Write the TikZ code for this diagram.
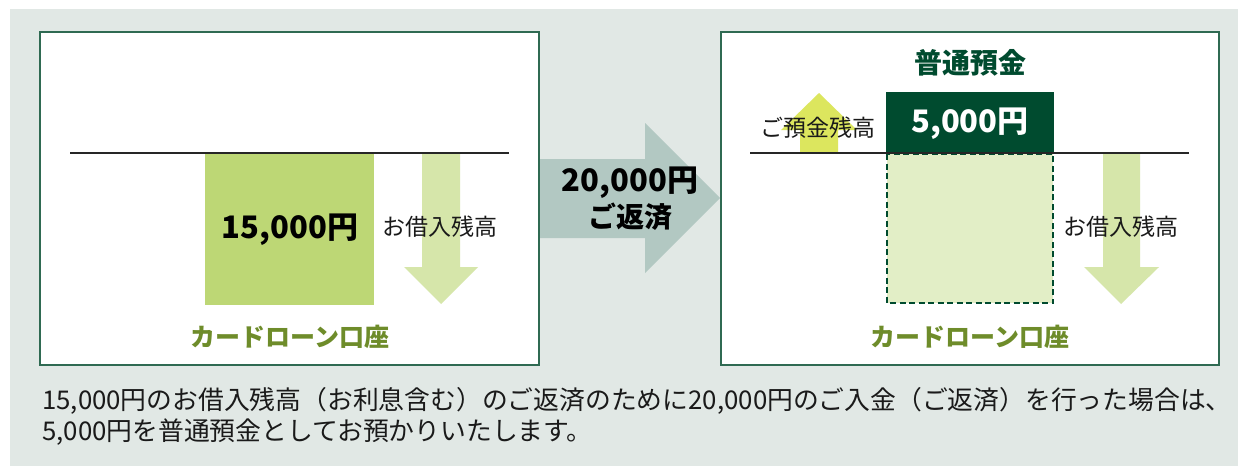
\documentclass[tikz,border=0pt]{standalone}
\usepackage{fontspec}
\setmainfont{Noto Sans CJK JP}
\definecolor{bgc}{HTML}{E1E8E5}
\definecolor{boxline}{HTML}{2F6A52}
\definecolor{midgreen}{HTML}{BDD775}
\definecolor{lightgreen}{HTML}{D6E6AA}
\definecolor{arrowgray}{HTML}{B2C8C2}
\definecolor{darkgreen}{HTML}{004B2F}
\definecolor{palegreen}{HTML}{E2EEC6}
\definecolor{yellowgreen}{HTML}{DCE65E}
\definecolor{olive}{HTML}{6E8C2A}
\definecolor{textc}{HTML}{1A1A1A}
\tikzset{
  panel/.style={draw=boxline, line width=1.3pt, fill=white},
  baseline line/.style={draw=black!85, line width=1.8pt},
  lbl/.style={inner sep=0pt, text=textc, font=\fontsize{23}{26}\selectfont},
  amount/.style={inner sep=0pt, text=black, font=\bfseries\fontsize{31}{34}\selectfont},
  acct/.style={inner sep=0pt, text=olive, font=\bfseries\fontsize{25}{28}\selectfont},
  note/.style={inner sep=0pt, anchor=base west, text=textc, font=\fontsize{25.8}{28}\selectfont},
}
\begin{document}
\begin{tikzpicture}[x=1pt,y=-1pt]
\useasboundingbox (0,0) rectangle (1238,466);
% background
\fill[bgc] (10,9) rectangle (1238,466);
% panels
\draw[panel] (40,32) rectangle (539,365);
\draw[panel] (721,32) rectangle (1219,365);
% middle arrow
\fill[arrowgray] (540,159) -- (645,159) -- (645,123) -- (720,198) -- (645,273) -- (645,238) -- (540,238) -- cycle;
% left panel
\fill[midgreen] (205,153) rectangle (374,305);
\fill[lightgreen] (422,153) -- (460,153) -- (460,267) -- (478,267) -- (441,304) -- (404,267) -- (422,267) -- cycle;
\draw[baseline line] (70,153) -- (509,153);
% right panel
\fill[darkgreen] (886,92) rectangle (1054,153);
\draw[fill=palegreen, draw=darkgreen, line width=2pt, dash pattern=on 6pt off 3.5pt] (887,154) rectangle (1053,303);
\fill[yellowgreen] (800,153) -- (838,153) -- (838,130) -- (857,130) -- (819,93) -- (781,130) -- (800,130) -- cycle;
\fill[lightgreen] (1103,153) -- (1140,153) -- (1140,267) -- (1159,267) -- (1121,304) -- (1084,267) -- (1103,267) -- cycle;
\draw[baseline line] (750,153) -- (1189,153);
% texts left
\node[amount] (a15) at (290,230) {15,000円};
\node[lbl] (lb1) at (440,227) {お借入残高};
\node[acct] (ac1) at (290,337) {カードローン口座};
% middle
\node[amount] (a20) at (630,183) {20,000円};
\node[amount, font=\bfseries\fontsize{28}{32}\selectfont] (rep) at (630,217) {ご返済};
% right
\node[inner sep=0pt, text=darkgreen, font=\bfseries\fontsize{28}{32}\selectfont] (fut) at (970,63) {普通預金};
\node[amount, text=white] (a5) at (970,124) {5,000円};
\node[lbl] (dep) at (818,128) {ご預金残高};
\node[lbl] (lb2) at (1121,227) {お借入残高};
\node[acct] (ac2) at (970,337) {カードローン口座};
% bottom note
\node[note] (n1) at (42,409) {15,000円のお借入残高（お利息含む）のご返済のために20,000円のご入金（ご返済）を行った場合は、};
\node[note] (n2) at (42,440) {5,000円を普通預金としてお預かりいたします。};
\end{tikzpicture}
\end{document}
